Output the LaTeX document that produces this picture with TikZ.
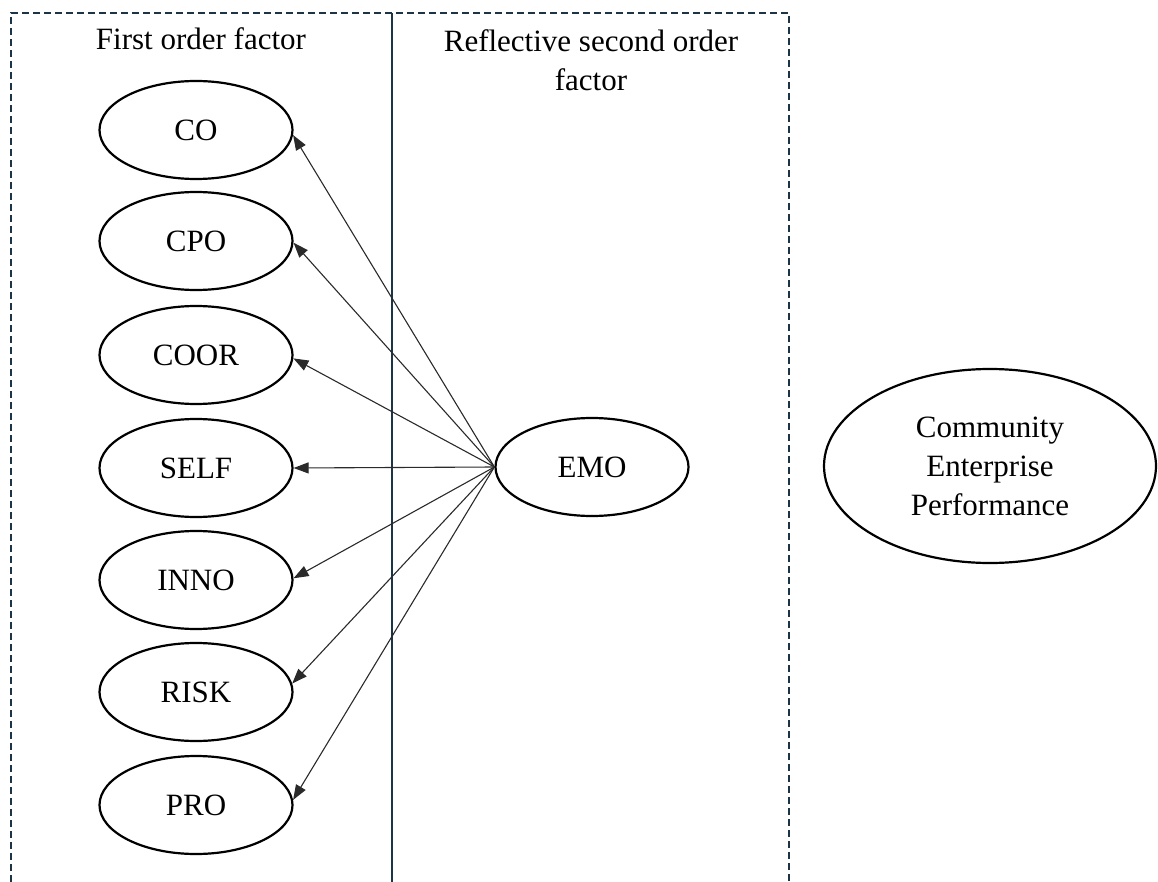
\documentclass[tikz,border=0pt]{standalone}
\usepackage{fontspec}
\setmainfont{Liberation Serif}
\usetikzlibrary{shapes.geometric,arrows.meta}
\definecolor{navy}{HTML}{1C3546}
\definecolor{arr}{HTML}{2A2A2A}
\begin{document}
\begin{tikzpicture}[x=1pt,y=-1pt,
 lat/.style={ellipse,draw=black,line width=2.2pt,minimum width=193pt,minimum height=98pt,inner sep=0pt,font=\fontsize{31}{39}\selectfont},
 ttl/.style={font=\fontsize{31}{39}\selectfont,align=center,inner sep=0pt},
 link/.style={draw=arr,line width=1.1pt,-{Triangle[length=15pt,width=11pt]}},
 frame/.style={draw=navy,line width=2pt,dash pattern=on 7pt off 4pt},
 divider/.style={draw=navy,line width=2pt}]
\useasboundingbox (0,0) rectangle (1158,882);
% frame
\draw[frame] (11,882) -- (11,13) -- (789,13) -- (789,882);
\draw[divider] (392,13) -- (392,882);
% titles
\node[ttl,anchor=base] (t1) at (201,50) {First order factor};
\node[ttl,anchor=north] (t2) at (591,29) {Reflective second order\\factor};
% first order factors
\node[lat] (co) at (196,130) {CO};
\node[lat] (cpo) at (196,241) {CPO};
\node[lat] (coor) at (196,355) {COOR};
\node[lat] (self) at (196,468) {SELF};
\node[lat] (inno) at (196,580) {INNO};
\node[lat] (risk) at (196,692) {RISK};
\node[lat] (pro) at (196,805) {PRO};
% second order
\node[lat] (emo) at (592,467) {EMO};
\node[lat,minimum width=332pt,minimum height=194pt,align=center] (cep) at (990,466) {Community\\Enterprise\\Performance};
% links
\draw[link] (emo.west) -- (co.-3);
\draw[link] (emo.west) -- (cpo.-1);
\draw[link] (emo.west) -- (coor.-2);
\draw[link] (emo.west) -- (self.east);
\draw[link] (emo.west) -- (inno.1);
\draw[link] (emo.west) -- (risk.5);
\draw[link] (emo.west) -- (pro.3);
\end{tikzpicture}
\end{document}
